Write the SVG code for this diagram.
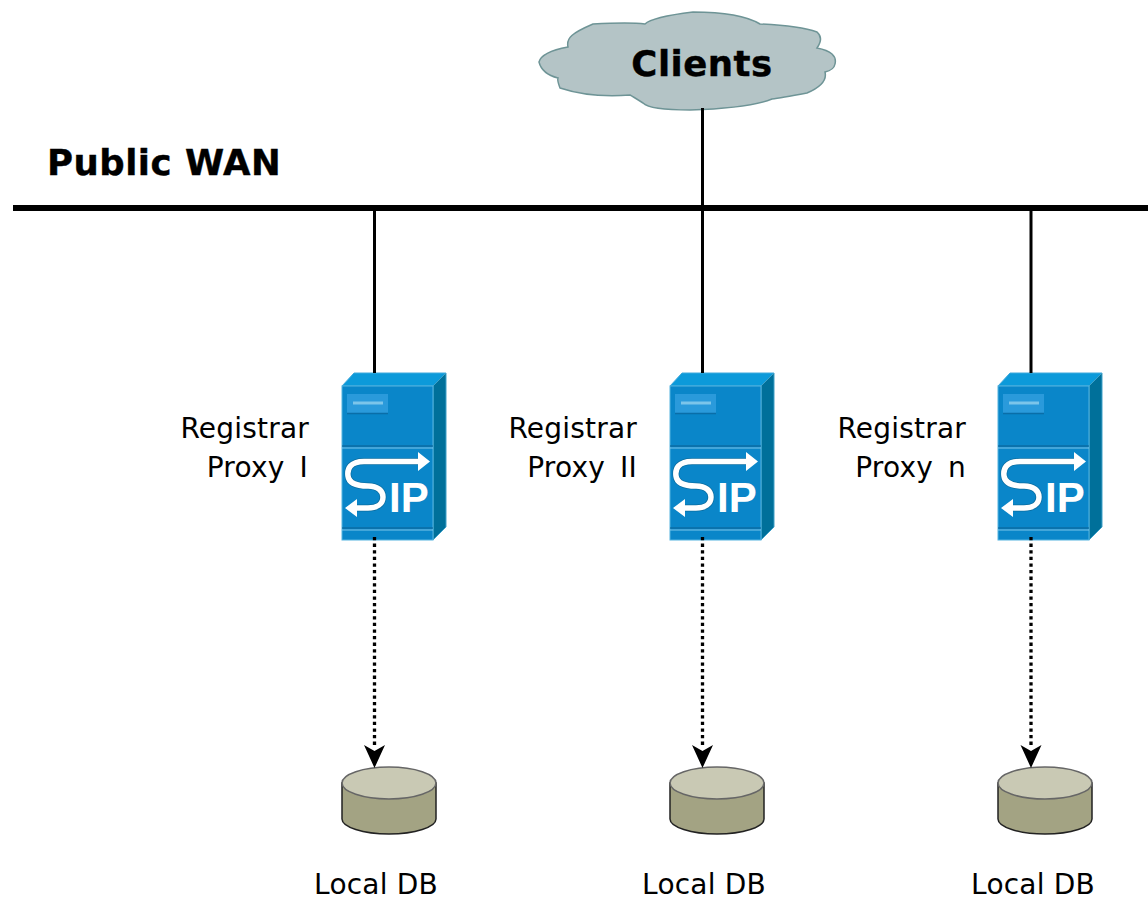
<svg xmlns="http://www.w3.org/2000/svg" width="1148" height="901" viewBox="0 0 1148 901">
<style>
text{font-family:"DejaVu Sans",sans-serif;fill:#000}
.t{font-size:28px;letter-spacing:.2px}
.p{word-spacing:6px}
.b{font-size:35.500px;font-weight:bold;letter-spacing:.5px;stroke:#000;stroke-width:.4px}
.m{text-anchor:middle}
.e{text-anchor:end}
.wire{fill:none;stroke:#000;stroke-width:3}
.dot{fill:none;stroke:#000;stroke-width:3.300;stroke-dasharray:3.300 3.300}
.bus{fill:none;stroke:#000;stroke-width:6}
.arrow{fill:none;stroke:#fff;stroke-width:5.500}
.arrow-edge{fill:none;stroke:#0a4f70;stroke-width:7;stroke-opacity:.45}
.sip{font-family:"Liberation Sans",sans-serif;font-size:42px;fill:#fff;font-weight:bold}
</style>
<defs>
<g id="server">
<path d="M0 13L12 0H104L92 13Z" fill="#0c9ada" stroke="#3fa9dc"/>
<path d="M91 13L104 0V154L91 167Z" fill="#00709a" stroke="#3fa0c8"/>
<rect x="0" y="13" width="91" height="154" fill="#0a86c9" stroke="#55b4e0"/>
<rect x="5" y="21" width="41" height="19" fill="#2a9adb"/>
<path d="M5 40.500H46" stroke="#0a6ea8" stroke-width="1.500"/>
<path d="M11 30H41" stroke="#7cc5ea" stroke-width="3"/>
<path d="M0 73H91" stroke="#0a5f90" stroke-width="1"/>
<path d="M0 75H91" stroke="#7cc5ea" stroke-width="1"/>
<path d="M0 155H91" stroke="#0a5f90" stroke-width="1"/>
<path d="M0 157H91" stroke="#7cc5ea" stroke-width="1"/>
<path class="arrow-edge" d="M76 88.500H22C8 88.500 5 96 6 103C7 111 17 113 26 113C36 113 41 118 41 124C41 131 35 135 26 135H14"/>
<path class="arrow" d="M78 88.500H22C8 88.500 5 96 6 103C7 111 17 113 26 113C36 113 41 118 41 124C41 131 35 135 26 135H12"/>
<path d="M88 88.500L76 79V98Z M3 135L15 126V144Z" fill="#fff"/>
<text class="sip" x="47" y="139">IP</text>
</g>
<g id="db">
<path d="M1 16V52C1 60 22 67 48 67C74 67 95 60 95 52V16Z" fill="#a3a383" stroke="#222" stroke-width="1.500"/>
<ellipse cx="48" cy="16" rx="47" ry="16" fill="#c9c9b4" stroke="#666" stroke-width="1.500"/>
</g>
</defs>

<g id="clients">
<path d="M539 62C541 54 552 50 568 47C566 38 572 33 593 24Q630 22 645 24Q652 17 693 12Q740 12 760 24Q800 26 817 32Q824 38 817 48Q838 52 835 64Q834 70 825 72Q828 84 807 93Q780 98 772 99Q750 108 690 110Q650 110 643 103Q632 96 630 95Q590 98 560 88Q557 80 558 78Q542 74 539 62Z" fill="#b4c4c6" stroke="#6e9496" stroke-width="1.500"/>
<text class="b m" x="702" y="76">Clients</text>
</g>

<g id="public-wan"><text class="b" x="47" y="175">Public WAN</text></g>

<g id="proxy-1">
<use href="#server" x="342" y="373"/>
<text class="t e" x="309" y="438">Registrar</text>
<text class="t e p" x="308" y="477">Proxy I</text>
</g>
<g id="proxy-2">
<use href="#server" x="670" y="373"/>
<text class="t e" x="637" y="438">Registrar</text>
<text class="t e p" x="637" y="477">Proxy II</text>
</g>
<g id="proxy-n">
<use href="#server" x="998" y="373"/>
<text class="t e" x="966" y="438">Registrar</text>
<text class="t e p" x="966" y="477">Proxy n</text>
</g>

<g id="db-1">
<use href="#db" x="341" y="767"/>
<text class="t m" x="376" y="894">Local DB</text>
</g>
<g id="db-2">
<use href="#db" x="669" y="767"/>
<text class="t m" x="704" y="894">Local DB</text>
</g>
<g id="db-n">
<use href="#db" x="997" y="767"/>
<text class="t m" x="1033" y="894">Local DB</text>
</g>

<g id="connectors">
<path class="bus" d="M13 208H1148"/>
<path class="wire" d="M702.500 108V208"/>
<path class="wire" d="M374.500 208V373"/>
<path class="wire" d="M702.500 208V373"/>
<path class="wire" d="M1031 208V373"/>
<path class="dot" d="M374.500 537V747"/>
<path class="dot" d="M702.500 537V747"/>
<path class="dot" d="M1031 537V747"/>
<path d="M364 745L374.500 751L385 745L374.500 768Z M692 745L702.500 751L713 745L702.500 768Z M1020.500 745L1031 751L1041.500 745L1031 768Z" fill="#000"/>
</g>
</svg>
